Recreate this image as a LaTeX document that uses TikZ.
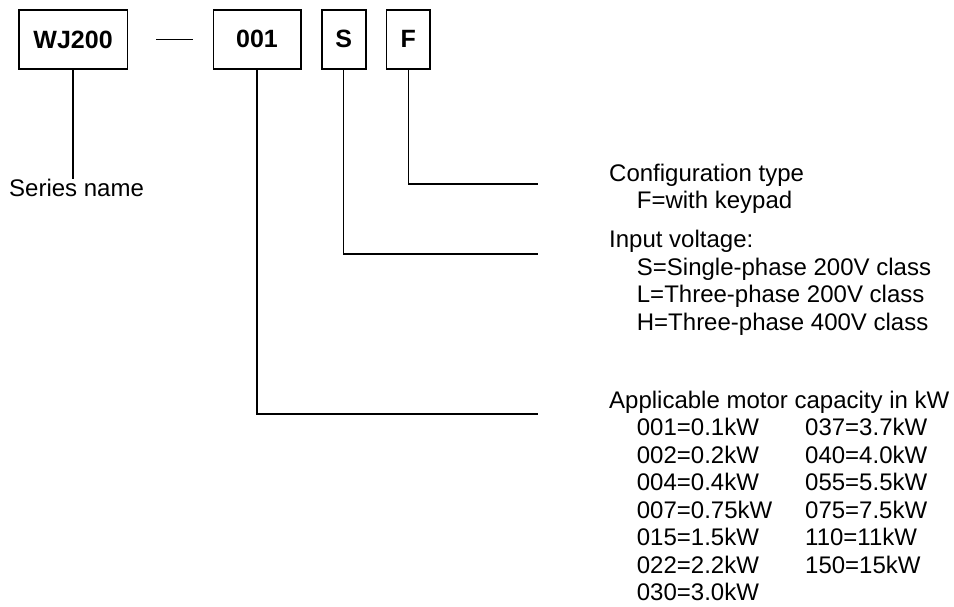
\documentclass[tikz,border=0pt]{standalone}
\usepackage{fontspec}
\setmainfont{Liberation Sans}
\begin{document}
\begin{tikzpicture}[x=1pt,y=-1pt,
  codebox/.style={draw,line width=1.6pt,inner sep=0pt,minimum height=59pt,
    font=\fontsize{25}{30}\selectfont\bfseries},
  lbl/.style={inner sep=0pt,anchor=base west,font=\fontsize{24}{27.5}\selectfont},
  conn/.style={line width=1.5pt}]
\useasboundingbox (0,0) rectangle (954,606);
% code boxes
\node[codebox,minimum width=108.8pt] (wj) at (73.1,39.6) {WJ200};
\node[codebox,minimum width=87.4pt] (cap) at (257,39.2) {001};
\node[codebox,minimum width=44pt] (volt) at (343.7,39.2) {S};
\node[codebox,minimum width=43.3pt] (conf) at (408.3,39.2) {F};
% dash
\coordinate (d1) at (156,39.3);
\coordinate (d2) at (193,39.3);
\draw[conn] (d1) -- (d2);
% series name
\node[lbl] (series) at (9,196.7) {Series name};
\draw[conn] (wj.south) -- (wj.south |- series.north);
% leader end points
\coordinate (eF) at (538,184);
\coordinate (eS) at (538,254);
\coordinate (eC) at (538,414);
\draw[conn] (conf.south) |- (eF);
\draw[conn] (volt.south) |- (eS);
\draw[conn] (cap.south) |- (eC);
% descriptions
\node[lbl] (tconf) at (609,181) {\begin{tabular}[t]{@{}l@{}}
Configuration type\\
\hspace*{27.7pt}F=with keypad
\end{tabular}};
\node[lbl] (tvolt) at (609,247.5) {\begin{tabular}[t]{@{}l@{}}
Input voltage:\\
\hspace*{27.7pt}S=Single-phase 200V class\\
\hspace*{27.7pt}L=Three-phase 200V class\\
\hspace*{27.7pt}H=Three-phase 400V class
\end{tabular}};
\node[lbl] (tcap) at (609,408) {\begin{tabular}[t]{@{}l@{}}
Applicable motor capacity in kW\\
\hspace*{27.7pt}\makebox[168.3pt][l]{001=0.1kW}037=3.7kW\\
\hspace*{27.7pt}\makebox[168.3pt][l]{002=0.2kW}040=4.0kW\\
\hspace*{27.7pt}\makebox[168.3pt][l]{004=0.4kW}055=5.5kW\\
\hspace*{27.7pt}\makebox[168.3pt][l]{007=0.75kW}075=7.5kW\\
\hspace*{27.7pt}\makebox[168.3pt][l]{015=1.5kW}110=11kW\\
\hspace*{27.7pt}\makebox[168.3pt][l]{022=2.2kW}150=15kW\\
\hspace*{27.7pt}030=3.0kW
\end{tabular}};
\end{tikzpicture}
\end{document}
